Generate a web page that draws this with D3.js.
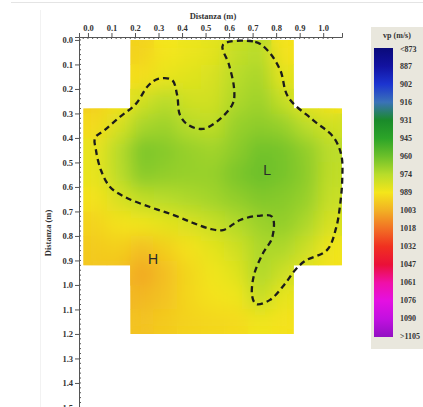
<!DOCTYPE html>
<html>
<head>
<meta charset="utf-8">
<script src="https://cdn.jsdelivr.net/npm/d3@7"></script>
<style>
  body { margin: 0; background: #fff; }
  .tick text { font-family: "Liberation Serif", serif; font-weight: bold; font-size: 8.5px; fill: #333; }
  .axis path, .axis line { stroke: #555; }
</style>
</head>
<body>
<div id="chart"></div>
<script>
// DATA

// cell centres of the velocity grid (m)
var colX = [0.03, 0.13, 0.23, 0.33, 0.43, 0.53, 0.63, 0.73, 0.83, 0.93, 1.03];
var rowY = [0.05, 0.15, 0.25, 0.35, 0.45, 0.55, 0.65, 0.75, 0.85, 0.95, 1.05, 1.15];

// vp (m/s), one array per row, null = no coverage
var vp00 = [null, null, 994, 989, 987, 985, 977, 974, 990, null, null];
var vp01 = [null, null, 991, 986, 984, 982, 974, 971, 985, null, null];
var vp02 = [995, 990, 980, 974, 980, 980, 972, 969, 977, 986, 990];
var vp03 = [992, 982, 971, 969, 974, 976, 968, 966, 968, 975, 980];
var vp04 = [986, 974, 963, 965, 968, 970, 966, 961, 962, 967, 975];
var vp05 = [986, 975, 965, 967, 968, 968, 963, 960, 962, 966, 976];
var vp06 = [990, 982, 976, 974, 972, 970, 967, 964, 965, 968, 978];
var vp07 = [994, 990, 988, 985, 982, 978, 973, 969, 967, 972, 982];
var vp08 = [996, 995, 999, 995, 990, 985, 980, 972, 972, 979, 988];
var vp09 = [997, 998, 1005, 999, 993, 988, 984, 972, 979, 985, 990];
var vp10 = [null, null, 1001, 998, 993, 990, 988, 977, 986, null, null];
var vp11 = [null, null, 998, 996, 994, 993, 992, 988, 990, null, null];
var vpRows = [vp00, vp01, vp02, vp03, vp04, vp05, vp06, vp07, vp08, vp09, vp10, vp11];

// surveyed area: [x0, x1, y0, y1] in m
var coverage = [
    [0.18, 0.875, 0.0, 0.28],
    [-0.02, 1.08, 0.28, 0.92],
    [0.18, 0.875, 0.92, 1.2]
];

// dashed contour line [x, y] in m
var contour = [
    [0.574, 0.020], [0.711, 0.008], [0.762, 0.041], [0.817, 0.122], [0.851, 0.233],
    [0.957, 0.327], [1.043, 0.396], [1.077, 0.469], [1.081, 0.571], [1.072, 0.673],
    [1.055, 0.767], [1.017, 0.857], [0.923, 0.902], [0.881, 0.939], [0.834, 1.0],
    [0.774, 1.061], [0.715, 1.078], [0.698, 1.045], [0.706, 0.959], [0.745, 0.869],
    [0.783, 0.808], [0.783, 0.722], [0.723, 0.718], [0.647, 0.735], [0.574, 0.776],
    [0.519, 0.771], [0.447, 0.747], [0.362, 0.714], [0.264, 0.682], [0.157, 0.641],
    [0.094, 0.600], [0.055, 0.531], [0.034, 0.449], [0.030, 0.400], [0.072, 0.367],
    [0.136, 0.314], [0.204, 0.261], [0.255, 0.188], [0.298, 0.159], [0.357, 0.163],
    [0.379, 0.224], [0.391, 0.306], [0.426, 0.347], [0.489, 0.363], [0.562, 0.322],
    [0.617, 0.257], [0.621, 0.196], [0.600, 0.102]
];

var markers = [
    { label: "L", x: 0.762, y: 0.531 },
    { label: "H", x: 0.277, y: 0.894 }
];

var xTicks = [0, 0.1, 0.2, 0.3, 0.4, 0.5, 0.6, 0.7, 0.8, 0.9, 1.0];
var yTicks = [0, 0.1, 0.2, 0.3, 0.4, 0.5, 0.6, 0.7, 0.8, 0.9, 1.0, 1.1, 1.2, 1.3, 1.4, 1.5];

var legendValues = [873, 887, 902, 916, 931, 945, 960, 974, 989, 1003, 1018, 1032, 1047, 1061, 1076, 1090, 1105];
var legendLabels = ["<873", "887", "902", "916", "931", "945", "960", "974", "989", "1003", "1018", "1032", "1047", "1061", "1076", "1090", ">1105"];
var legendColors = ["#0a0a7a", "#1212a0", "#1c34d0", "#3a72b8", "#1a8a2a", "#2ca428", "#6cc02a", "#b8dc2a", "#f4e61a", "#f2b024", "#f27024", "#f03020", "#ea1038", "#f010a8", "#e410e2", "#c210e0", "#9210c2"];

// VISUALIZATION

var width = 423, height = 407;

var svg = d3.select("#chart").append("svg")
    .attr("width", width)
    .attr("height", height);

// faint frame lines of the screenshot
svg.append("line").attr("x1", 11).attr("x2", width).attr("y1", 2.5).attr("y2", 2.5)
    .attr("stroke", "#e4e4e4");
svg.append("line").attr("x1", 40.5).attr("x2", 40.5).attr("y1", 10).attr("y2", height)
    .attr("stroke", "#f2f2f2");

var x = d3.scaleLinear().domain([-0.038, 1.08]).range([79, 342]);
var y = d3.scaleLinear().domain([-0.012, 1.55]).range([37, 37 + 1.562 * 245]);

var color = d3.scaleLinear().domain(legendValues).range(legendColors).clamp(true);

var defs = svg.append("defs");

var clip = defs.append("clipPath").attr("id", "area-clip");
clip.selectAll("rect")
    .data(coverage)
    .join("rect")
    .attr("x", d => x(d[0]))
    .attr("y", d => y(d[2]))
    .attr("width", d => x(d[1]) - x(d[0]))
    .attr("height", d => y(d[3]) - y(d[2]));

defs.append("filter").attr("id", "smooth")
    .attr("x", "-10%").attr("y", "-10%").attr("width", "120%").attr("height", "120%")
    .append("feGaussianBlur").attr("stdDeviation", 9);

var cells = [];
vpRows.forEach((row, i) => {
    row.forEach((v, j) => {
        if (v != null) cells.push({ cx: colX[j], cy: rowY[i], v: v });
    });
});

var field = svg.append("g").attr("clip-path", "url(#area-clip)");

function drawCells(g) {
    g.selectAll("rect")
        .data(cells)
        .join("rect")
        .attr("x", d => x(d.cx - 0.05))
        .attr("y", d => y(d.cy - 0.05))
        .attr("width", x(0.1) - x(0) + 0.5)
        .attr("height", y(0.1) - y(0) + 0.5)
        .attr("fill", d => color(d.v));
}

drawCells(field.append("g"));
drawCells(field.append("g").attr("filter", "url(#smooth)"));

// contour
var line = d3.line()
    .x(d => x(d[0]))
    .y(d => y(d[1]))
    .curve(d3.curveCatmullRomClosed.alpha(0.5));

svg.append("path")
    .attr("d", line(contour))
    .attr("fill", "none")
    .attr("stroke", "#1c1c1c")
    .attr("stroke-width", 2.3)
    .attr("stroke-dasharray", "6,4");

svg.selectAll("text.marker")
    .data(markers)
    .join("text")
    .attr("class", "marker")
    .attr("x", d => x(d.x))
    .attr("y", d => y(d.y))
    .attr("text-anchor", "middle")
    .attr("dominant-baseline", "central")
    .style("font-family", "Liberation Sans, Arial, sans-serif")
    .style("font-size", "14px")
    .style("fill", "#2a2a2a")
    .text(d => d.label);

// axes
var x_axis = d3.axisTop(x).tickValues(xTicks).tickFormat(d3.format(".1f")).tickSize(4).tickPadding(2);
var xg = svg.append("g").attr("class", "axis").attr("transform", "translate(0,37)").call(x_axis);

var y_axis = d3.axisLeft(y).tickValues(yTicks).tickFormat(d3.format(".1f")).tickSize(4).tickPadding(2);
var yg = svg.append("g").attr("class", "axis").attr("transform", "translate(79,0)").call(y_axis);

// minor ticks
xg.selectAll("line.minor")
    .data(d3.range(0, 54).map(i => -0.02 + i * 0.02))
    .join("line").attr("class", "minor")
    .attr("x1", d => x(d)).attr("x2", d => x(d))
    .attr("y1", 0).attr("y2", 2)
    .attr("stroke", "#777");
yg.selectAll("line.minor")
    .data(d3.range(0, 78).map(i => i * 0.02))
    .join("line").attr("class", "minor")
    .attr("y1", d => y(d)).attr("y2", d => y(d))
    .attr("x1", 0).attr("x2", 2)
    .attr("stroke", "#777");

svg.append("text")
    .attr("x", 213).attr("y", 19)
    .attr("text-anchor", "middle")
    .style("font-family", "Liberation Serif, serif").style("font-weight", "bold")
    .style("font-size", "8.5px").style("fill", "#333")
    .text("Distanza (m)");

svg.append("text")
    .attr("transform", "translate(51,233) rotate(-90)")
    .attr("text-anchor", "middle")
    .style("font-family", "Liberation Serif, serif").style("font-weight", "bold")
    .style("font-size", "8.5px").style("fill", "#333")
    .text("Distanza (m)");

// legend
var legend = svg.append("g");
legend.append("rect")
    .attr("x", 371).attr("y", 27).attr("width", 60).attr("height", 322)
    .attr("fill", "#e9e7dd");

var grad = defs.append("linearGradient").attr("id", "vp-grad")
    .attr("x1", 0).attr("x2", 0).attr("y1", 0).attr("y2", 1);
grad.selectAll("stop")
    .data(legendColors)
    .join("stop")
    .attr("offset", (d, i) => i / (legendColors.length - 1))
    .attr("stop-color", d => d);

var ly = d3.scaleLinear().domain([0, legendValues.length - 1]).range([49, 336]);

legend.append("rect")
    .attr("x", 374).attr("y", ly(0) - 1).attr("width", 19).attr("height", ly(legendValues.length - 1) - ly(0) + 2)
    .attr("fill", "url(#vp-grad)");

legend.append("text")
    .attr("x", 397).attr("y", 38)
    .attr("text-anchor", "middle")
    .style("font-family", "Liberation Serif, serif").style("font-weight", "bold")
    .style("font-size", "8px").style("fill", "#333")
    .text("vp (m/s)");

legend.selectAll("text.lab")
    .data(legendLabels)
    .join("text")
    .attr("class", "lab")
    .attr("x", 400)
    .attr("y", (d, i) => ly(i))
    .attr("dominant-baseline", "central")
    .style("font-family", "Liberation Serif, serif").style("font-weight", "bold")
    .style("font-size", "8px").style("fill", "#333")
    .text(d => d);
</script>
</body>
</html>
